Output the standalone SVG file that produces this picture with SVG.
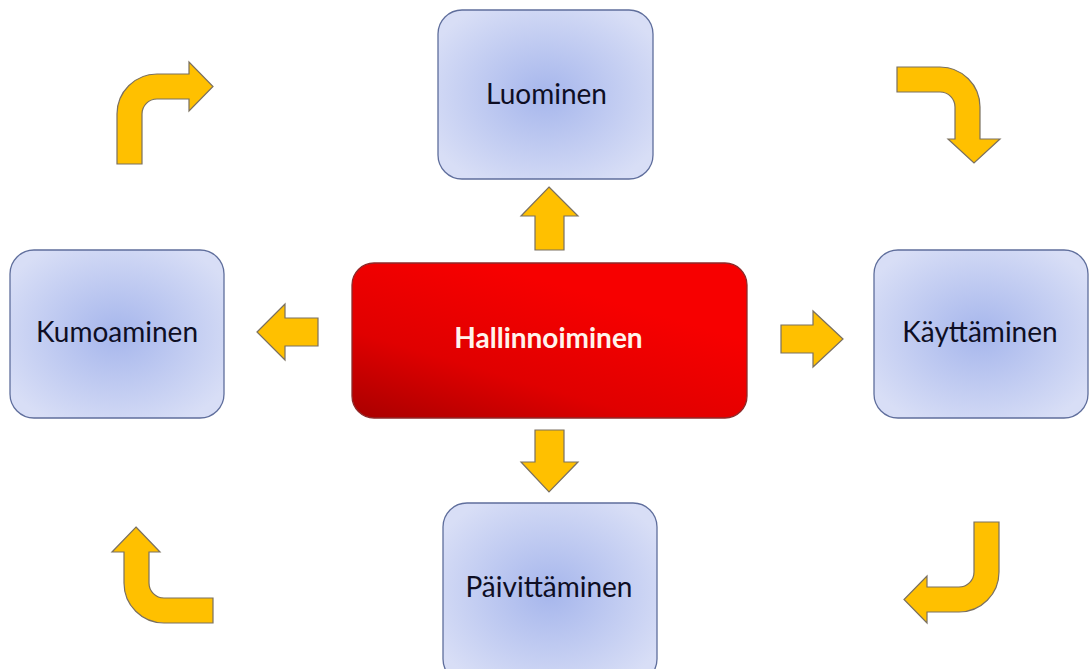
<svg xmlns="http://www.w3.org/2000/svg" width="1090" height="669" viewBox="0 0 1090 669">
<defs>
<radialGradient id="blueG" cx="50%" cy="50%" r="60%">
<stop offset="0" stop-color="#A6B6EC"/>
<stop offset="1" stop-color="#D8DEF6"/>
</radialGradient>
<linearGradient id="redG" x1="0" y1="1" x2="0.6" y2="0.2">
<stop offset="0" stop-color="#A80000"/>
<stop offset="0.45" stop-color="#E00000"/>
<stop offset="1" stop-color="#F70000"/>
</linearGradient>
<style>
.box{fill:url(#blueG);stroke:#5F6E9C;stroke-width:1.3}
.lbl{font-family:Lato,"Open Sans","Liberation Sans",sans-serif;font-size:28px;fill:#0E0E24;text-anchor:middle}
.arr{fill:#FFC000;stroke:#7A7060;stroke-width:1.2;stroke-linejoin:miter}
</style>
</defs>
<rect width="1090" height="669" fill="#FFFFFF"/>
<g id="luominen"><rect class="box" x="438" y="10" width="215" height="169" rx="24"/><text class="lbl" x="546.5" y="104">Luominen</text></g>
<g id="kumoaminen"><rect class="box" x="10" y="250" width="214" height="168" rx="24"/><text class="lbl" x="117" y="342">Kumoaminen</text></g>
<g id="kayttaminen"><rect class="box" x="874" y="250" width="214" height="168" rx="24"/><text class="lbl" x="980" y="342">Käyttäminen</text></g>
<g id="paivittaminen"><rect class="box" x="443" y="503" width="214" height="180" rx="24"/><text class="lbl" x="549" y="597">Päivittäminen</text></g>
<g id="hallinnoiminen"><rect x="352" y="263" width="395" height="155" rx="22" fill="url(#redG)" stroke="#8E2A2A" stroke-width="1.3"/><text x="548.5" y="348" style="font-family:Lato,'Open Sans','Liberation Sans',sans-serif;font-size:28px;font-weight:bold;fill:#FFF4EC;text-anchor:middle">Hallinnoiminen</text></g>
<g id="connectors">
<path class="arr" d="M549,187 L578,216 L564,216 L564,250 L535,250 L535,216 L521,216 Z"/>
<path class="arr" d="M535,430 L564,430 L564,462 L578,462 L549,492 L521,462 L535,462 Z"/>
<path class="arr" d="M257,332 L285,304 L285,318 L318,318 L318,346 L285,346 L285,360 Z"/>
<path class="arr" d="M843,339 L813,311 L813,325 L781,325 L781,353 L813,353 L813,367 Z"/>
<path class="arr" d="M117,164 L117,114 A40,40 0 0 1 157,74 L189,74 L189,62 L213,86.5 L189,111 L189,99 L157,99 A15,15 0 0 0 142,114 L142,164 Z"/>
<path class="arr" d="M897,67 L940,67 A40,40 0 0 1 980,107 L980,139 L1000,139 L974,163 L948,139 L955,139 L955,107 A15,15 0 0 0 940,92 L897,92 Z"/>
<path class="arr" d="M136,527 L160,552 L149,552 L149,583 A15,15 0 0 0 164,598 L213,598 L213,623 L164,623 A40,40 0 0 1 124,583 L124,552 L112,552 Z"/>
<path class="arr" d="M974,522 L999,522 L999,572 A40,40 0 0 1 959,612 L927,612 L927,623 L904,599.5 L927,576 L927,587 L959,587 A15,15 0 0 0 974,572 Z"/>
</g>
</svg>
